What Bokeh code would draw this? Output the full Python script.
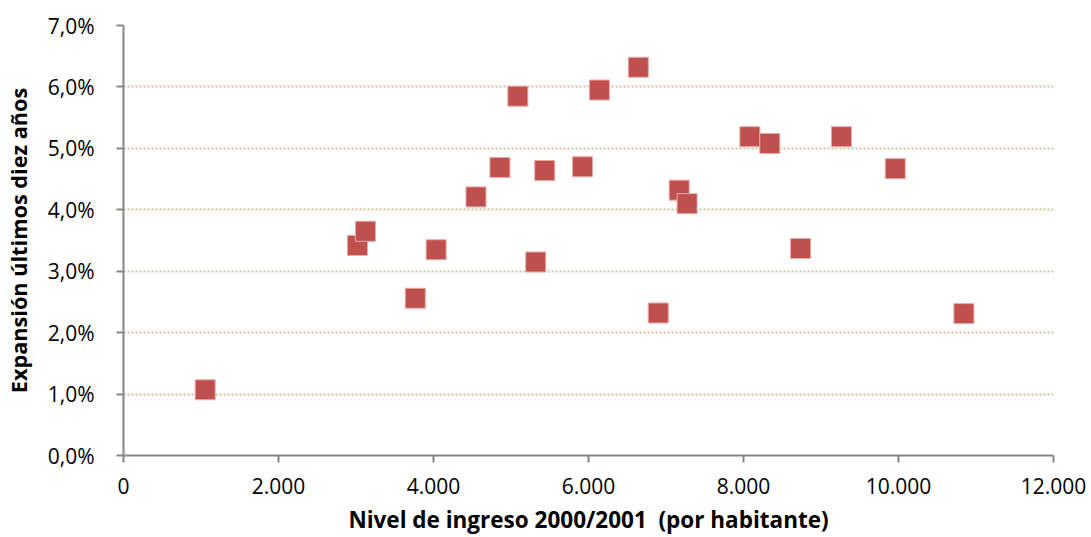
from bokeh.plotting import figure
from bokeh.models import FixedTicker, CustomJSTickFormatter, Range1d
from bokeh.embed import file_html
from bokeh.resources import INLINE

# Nivel de ingreso 2000/2001 (por habitante)
ingreso = [1054, 3019, 3122, 3765, 4034, 4548, 4857, 5088, 5319, 5435, 5923,
           6141, 6643, 6900, 7170, 7272, 8082, 8339, 8737, 9264, 9958, 10844]
# Expansión últimos diez años (%)
expansion = [1.07, 3.42, 3.65, 2.56, 3.35, 4.21, 4.69, 5.85, 3.15, 4.64, 4.70,
             5.95, 6.32, 2.32, 4.32, 4.10, 5.19, 5.08, 3.37, 5.19, 4.67, 2.31]

x_ticks = [0, 2000, 4000, 6000, 8000, 10000, 12000]
y_ticks = [0, 1, 2, 3, 4, 5, 6, 7]

x_title = "Nivel de ingreso 2000/2001\u00a0 (por habitante)"
y_title = "Expansión últimos diez años"

FONT = "Open Sans"
AXIS_GRAY = "#868686"

p = figure(width=1091, height=537, output_backend="svg", toolbar_location=None,
           x_range=Range1d(0, 12000), y_range=Range1d(0, 7),
           min_border_left=119, min_border_right=38, min_border_top=25,
           min_border_bottom=82)
p.outline_line_color = None
p.background_fill_color = "white"

p.scatter(ingreso, expansion, marker="square", size=20,
          fill_color="#C0504D", line_color="#E8A9A8", line_width=1)

p.xaxis.ticker = FixedTicker(ticks=x_ticks)
p.yaxis.ticker = FixedTicker(ticks=y_ticks)
p.xaxis.formatter = CustomJSTickFormatter(code="""
    var s = Math.round(tick).toString();
    return s.replace(/\\B(?=(\\d{3})+(?!\\d))/g, '.');
""")
p.yaxis.formatter = CustomJSTickFormatter(code="""
    return tick.toFixed(1).replace('.', ',') + '%';
""")

for ax in (p.xaxis[0], p.yaxis[0]):
    ax.axis_line_color = AXIS_GRAY
    ax.axis_line_width = 2
    ax.major_tick_line_color = AXIS_GRAY
    ax.major_tick_line_width = 2
    ax.major_tick_in = 0
    ax.major_tick_out = 7
    ax.minor_tick_line_color = None
    ax.major_label_text_font = FONT
    ax.major_label_text_font_size = "21px"
    ax.major_label_text_color = "black"
    ax.axis_label_text_font = FONT
    ax.axis_label_text_font_style = "bold"
    ax.axis_label_text_color = "black"

p.xaxis.axis_label = x_title
p.yaxis.axis_label = y_title
p.xaxis.axis_label_text_font_size = "22.5px"
p.yaxis.axis_label_text_font_size = "21.7px"
p.xaxis.major_label_standoff = 15
p.yaxis.major_label_standoff = 22
p.xaxis.axis_label_standoff = 7
p.yaxis.axis_label_standoff = 12

p.xgrid.grid_line_color = None
p.ygrid.grid_line_color = "#C9C29E"
p.ygrid.grid_line_dash = "2 2"
p.ygrid.grid_line_width = 2

open("out.html", "w").write(file_html(p, INLINE))
